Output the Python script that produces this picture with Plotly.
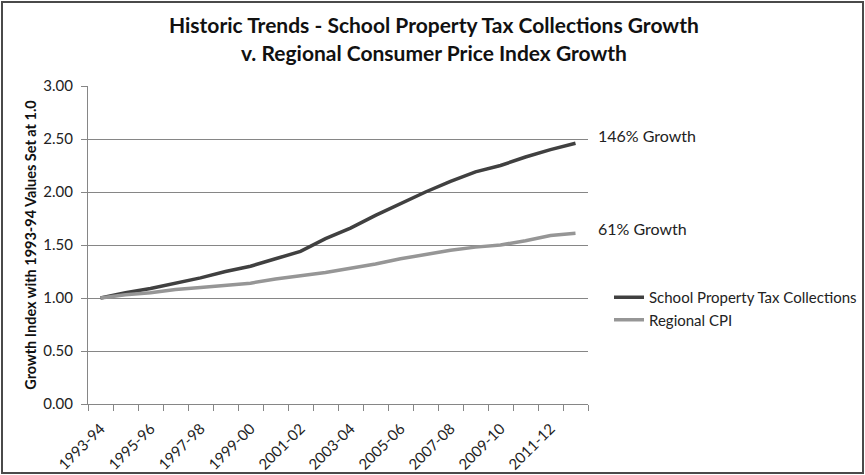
import plotly.graph_objects as go

years = ["1993-94", "1994-95", "1995-96", "1996-97", "1997-98", "1998-99", "1999-00",
         "2000-01", "2001-02", "2002-03", "2003-04", "2004-05", "2005-06", "2006-07",
         "2007-08", "2008-09", "2009-10", "2010-11", "2011-12", "2012-13"]
tax = [1.00, 1.05, 1.09, 1.14, 1.19, 1.25, 1.30, 1.37, 1.44, 1.56,
       1.66, 1.78, 1.89, 2.00, 2.10, 2.19, 2.25, 2.33, 2.40, 2.46]
cpi = [1.00, 1.03, 1.05, 1.08, 1.10, 1.12, 1.14, 1.18, 1.21, 1.24,
       1.28, 1.32, 1.37, 1.41, 1.45, 1.48, 1.50, 1.54, 1.59, 1.61]
tick_text = [y if i % 2 == 0 else "" for i, y in enumerate(years)]
y_ticks = [0, 0.5, 1.0, 1.5, 2.0, 2.5, 3.0]
title_lines = ["Historic Trends - School Property Tax Collections Growth",
               "v. Regional Consumer Price Index Growth"]

W, H = 865, 475
ML, MR, MT, MB = 88, 277, 86, 71
FONT = "Lato"
pw = W - ML - MR
ph = H - MT - MB


def px_x(x):
    return (x - ML) / pw


def px_y(y):
    return (H - MB - y) / ph


fig = go.Figure()
fig.add_trace(go.Scatter(x=years, y=tax, mode="lines", name="School Property Tax Collections",
                         line=dict(color="#404040", width=3.5)))
fig.add_trace(go.Scatter(x=years, y=cpi, mode="lines", name="Regional CPI",
                         line=dict(color="#969696", width=3.5)))

fig.update_layout(
    width=W, height=H,
    margin=dict(l=ML, r=MR, t=MT, b=MB, autoexpand=False),
    paper_bgcolor="white", plot_bgcolor="white",
    font=dict(family=FONT, color="#222222"),
    xaxis=dict(type="category", tickmode="array", tickvals=years, ticktext=tick_text,
               tickangle=-45, tickson="boundaries", ticks="outside", ticklen=6,
               tickcolor="#868686", showline=True, linecolor="#868686", linewidth=1,
               showgrid=False, tickfont=dict(size=15, color="#222222"),
               ticklabelstandoff=9, automargin=False,
               range=[-0.5, len(years) - 0.5]),
    yaxis=dict(range=[0, 3], tickvals=y_ticks, tickformat=".2f", ticks="outside", ticklen=6,
               tickcolor="#868686", showline=True, linecolor="#868686", linewidth=1,
               showgrid=True, gridcolor="#868686", gridwidth=1, zeroline=False,
               tickfont=dict(size=15, color="#222222"), ticklabelstandoff=5,
               automargin=False,
               title=dict(text="Growth Index with 1993-94 Values Set at 1.0",
                          font=dict(size=14.5, color="#111111", weight="bold"), standoff=3)),
    legend=dict(x=px_x(609), xanchor="left", y=px_y(281), yanchor="top",
                font=dict(size=15, color="#222222"), bgcolor="rgba(0,0,0,0)"),
    showlegend=True,
)

for line, ypix in zip(title_lines, [24, 52]):
    fig.add_annotation(text=line, xref="paper", yref="paper", x=px_x(434), y=px_y(ypix),
                       xanchor="center", yanchor="middle", showarrow=False,
                       font=dict(family=FONT, size=21, color="#111111", weight="bold"))

fig.add_annotation(text=f"{round((tax[-1] - 1) * 100)}% Growth", xref="paper", yref="y",
                   x=px_x(596), y=2.53, xanchor="left", yanchor="middle",
                   showarrow=False, font=dict(size=16, color="#222222"))
fig.add_annotation(text=f"{round((cpi[-1] - 1) * 100)}% Growth", xref="paper", yref="y",
                   x=px_x(596), y=1.66, xanchor="left", yanchor="middle",
                   showarrow=False, font=dict(size=16, color="#222222"))

# outer border around the whole chart
fig.add_shape(type="rect", xref="paper", yref="paper",
              x0=px_x(2), x1=px_x(W - 2), y0=px_y(H - 2), y1=px_y(2),
              line=dict(color="#4a4a4a", width=2), fillcolor="rgba(0,0,0,0)", layer="below")

fig.write_html("out.html")
